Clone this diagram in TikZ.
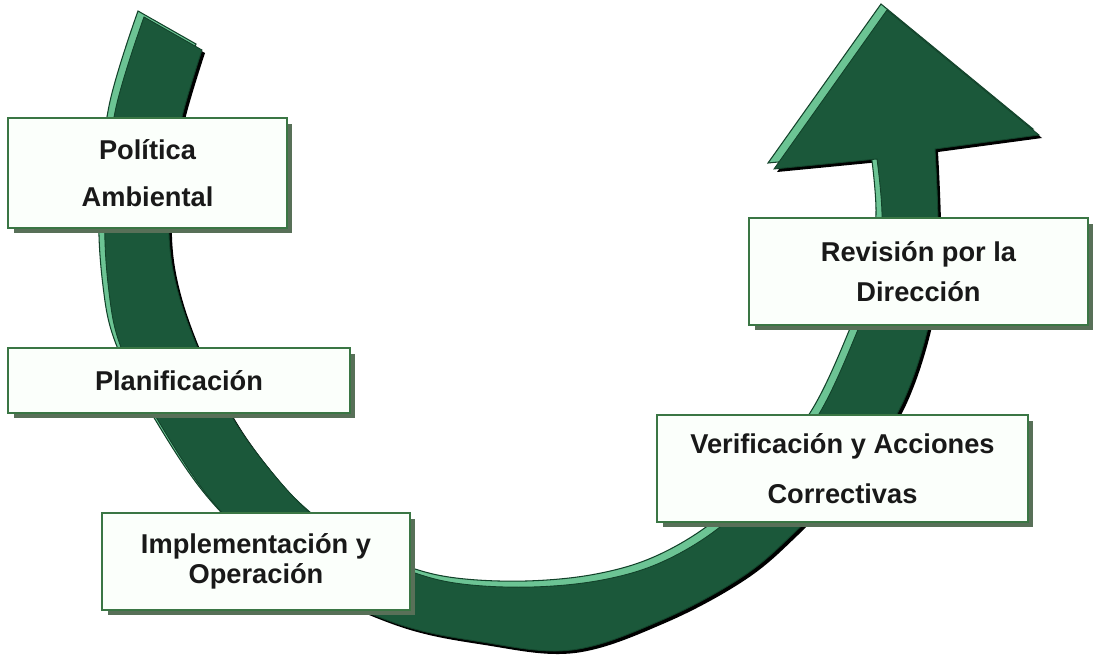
\documentclass[tikz,border=0pt]{standalone}
\usepackage{fontspec}
\setmainfont{Liberation Sans}
\usetikzlibrary{shadows}
\definecolor{bandgreen}{RGB}{27,88,58}
\definecolor{bandlight}{RGB}{108,196,148}
\definecolor{bandedge}{RGB}{18,66,42}
\definecolor{boxgreen}{RGB}{58,118,68}
\definecolor{boxshadow}{RGB}{88,112,88}
\definecolor{boxfill}{RGB}{251,255,251}
\definecolor{txt}{RGB}{25,25,25}
\newcommand\bandpath{(142,15) -- plot[smooth,tension=0.6] coordinates {(142,15) (113,110) (103,210) (107,290) (120,348) (157,420) (215,505) (290,572) (390,620) (480,640) (570,648) (660,618) (740,575) (793,530) (848,472) (895,412) (925,330) (936,250) (933,147)} -- (1037,133) -- (885,8) -- (772,167) -- (875,157) -- plot[smooth,tension=0.6] coordinates {(875,157) (880,218) (872,280) (855,330) (817,412) (768,475) (718,525) (660,560) (600,578) (530,585) (460,582) (410,570) (355,546) (307,510) (268,468) (232,418) (200,356) (176,290) (167,232) (172,170) (180,115) (200,48)} -- cycle}
\begin{document}
\begin{tikzpicture}[x=0.02cm,y=-0.02cm,
  stagebox/.style={draw=boxgreen,line width=1.4pt,fill=boxfill,align=center,text=txt,
    font=\bfseries\fontsize{15.5}{27}\selectfont,inner sep=0pt,
    drop shadow={shadow xshift=0.11cm,shadow yshift=-0.11cm,fill=boxshadow,opacity=1}},
  bandshadow/.style={fill=black},
  bandhi/.style={fill=bandlight,draw=bandedge,line width=0.6pt},
  bandmain/.style={fill=bandgreen,draw=bandedge,line width=0.5pt}]
\useasboundingbox[fill=white] (0,0) rectangle (1093,656);
% curved arrow
\begin{scope}[shift={(5,5)}]
  \fill[bandshadow] \bandpath;
\end{scope}
\begin{scope}[shift={(-4,-4)}]
  \filldraw[bandhi] \bandpath;
\end{scope}
\begin{scope}[shift={(2,2)}]
  \filldraw[bandmain] \bandpath;
\end{scope}
% stages
\node[stagebox,minimum width=5.58cm,minimum height=2.2cm] (pol) at (147.5,173) {Política\\Ambiental};
\node[stagebox,minimum width=6.84cm,minimum height=1.3cm] (plan) at (179,380.5) {Planificación};
\node[stagebox,minimum width=6.16cm,minimum height=1.94cm,font=\bfseries\fontsize{15.5}{17}\selectfont] (impl) at (256,561.5) {Implementación y\\Operación};
\node[stagebox,minimum width=7.42cm,minimum height=2.14cm,font=\bfseries\fontsize{15.5}{28.5}\selectfont] (ver) at (842.5,468.5) {Verificación y Acciones\\Correctivas};
\node[stagebox,minimum width=6.78cm,minimum height=2.14cm,font=\bfseries\fontsize{15.5}{22.5}\selectfont,text depth=-0.18cm] (rev) at (918.5,271.5) {Revisión por la\\Dirección};
\end{tikzpicture}
\end{document}
